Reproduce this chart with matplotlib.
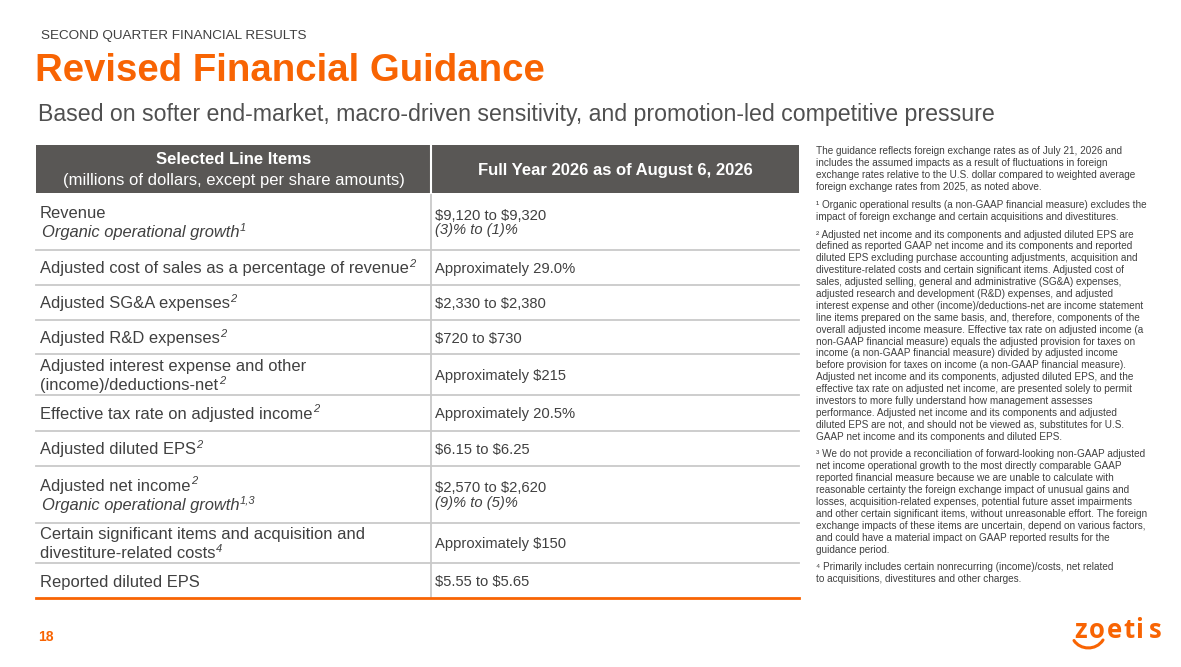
import matplotlib
matplotlib.use("Agg")
import matplotlib.pyplot as plt
from matplotlib.patches import Rectangle, PathPatch
from matplotlib.path import Path

plt.rcParams['font.family'] = ['Liberation Sans', 'DejaVu Sans']

# ---------------- content ----------------
kicker = "SECOND QUARTER FINANCIAL RESULTS"
title = "Revised Financial Guidance"
subtitle = "Based on softer end-market, macro-driven sensitivity, and promotion-led competitive pressure"
header_left = ["Selected Line Items", "(millions of dollars, except per share amounts)"]
header_right = "Full Year 2026 as of August 6, 2026"

# each line: (text, superscript)
line_items = [
    [("Revenue", "")],
    [("Adjusted cost of sales as a percentage of revenue", "2")],
    [("Adjusted SG&A expenses", "2")],
    [("Adjusted R&D expenses", "2")],
    [("Adjusted interest expense and other", ""), ("(income)/deductions-net", "2")],
    [("Effective tax rate on adjusted income", "2")],
    [("Adjusted diluted EPS", "2")],
    [("Adjusted net income", "2")],
    [("Certain significant items and acquisition and", ""), ("divestiture-related costs", "4")],
    [("Reported diluted EPS", "")],
]
line_item_sub = [("Organic operational growth", "1"), None, None, None, None, None, None,
                 ("Organic operational growth", "1,3"), None, None]
guidance = ["$9,120 to $9,320", "Approximately 29.0%", "$2,330 to $2,380", "$720 to $730",
            "Approximately $215", "Approximately 20.5%", "$6.15 to $6.25", "$2,570 to $2,620",
            "Approximately $150", "$5.55 to $5.65"]
guidance_sub = ["(3)% to (1)%", None, None, None, None, None, None, "(9)% to (5)%", None, None]

footnotes = [
    ["The guidance reflects foreign exchange rates as of July 21, 2026 and",
     "includes the assumed impacts as a result of fluctuations in foreign",
     "exchange rates relative to the U.S. dollar compared to weighted average",
     "foreign exchange rates from 2025, as noted above."],
    ["¹ Organic operational results (a non-GAAP financial measure) excludes the",
     "impact of foreign exchange and certain acquisitions and divestitures."],
    ["² Adjusted net income and its components and adjusted diluted EPS are",
     "defined as reported GAAP net income and its components and reported",
     "diluted EPS excluding purchase accounting adjustments, acquisition and",
     "divestiture-related costs and certain significant items. Adjusted cost of",
     "sales, adjusted selling, general and administrative (SG&A) expenses,",
     "adjusted research and development (R&D) expenses, and adjusted",
     "interest expense and other (income)/deductions-net are income statement",
     "line items prepared on the same basis, and, therefore, components of the",
     "overall adjusted income measure. Effective tax rate on adjusted income (a",
     "non-GAAP financial measure) equals the adjusted provision for taxes on",
     "income (a non-GAAP financial measure) divided by adjusted income",
     "before provision for taxes on income (a non-GAAP financial measure).",
     "Adjusted net income and its components, adjusted diluted EPS, and the",
     "effective tax rate on adjusted net income, are presented solely to permit",
     "investors to more fully understand how management assesses",
     "performance. Adjusted net income and its components and adjusted",
     "diluted EPS are not, and should not be viewed as, substitutes for U.S.",
     "GAAP net income and its components and diluted EPS."],
    ["³ We do not provide a reconciliation of forward-looking non-GAAP adjusted",
     "net income operational growth to the most directly comparable GAAP",
     "reported financial measure because we are unable to calculate with",
     "reasonable certainty the foreign exchange impact of unusual gains and",
     "losses, acquisition-related expenses, potential future asset impairments",
     "and other certain significant items, without unreasonable effort. The foreign",
     "exchange impacts of these items are uncertain, depend on various factors,",
     "and could have a material impact on GAAP reported results for the",
     "guidance period."],
    ["⁴ Primarily includes certain nonrecurring (income)/costs, net related",
     "to acquisitions, divestitures and other charges."],
]
page_number = "18"
logo_letters = list("zoetis")

# ---------------- style / layout ----------------
ORANGE = "#F86403"
DARK = "#404040"
HEADER_BG = "#595755"
GRID = "#C9C9C9"

W, H = 1181, 667
fig = plt.figure(figsize=(W / 100, H / 100), dpi=100)
ax = fig.add_axes([0, 0, 1, 1])
ax.set_xlim(0, W)
ax.set_ylim(H, 0)
ax.axis("off")
renderer = fig.canvas.get_renderer()
inv = ax.transData.inverted()


def text_with_sup(x, y, txt, sup, fs, style="normal", color=DARK):
    t = ax.text(x, y, txt, fontsize=fs, style=style, color=color, ha="left", va="center",
                parse_math=False)
    if sup:
        bb = t.get_window_extent(renderer=renderer)
        xr = inv.transform((bb.x1, bb.y0))[0]
        ax.text(xr + 0.5, y - fs * 0.42, sup, fontsize=fs * 0.68, style="italic",
                color=color, ha="left", va="center", parse_math=False)


ax.text(41, 36, kicker, fontsize=9.7, color=DARK, va="center", ha="left")
ax.text(35, 71, title, fontsize=27.6, fontweight="bold", color=ORANGE, va="center", ha="left")
ax.text(38, 114, subtitle, fontsize=16.7, color="#505050", va="center", ha="left")

# table geometry
x0, xdiv, x1 = 36, 431, 799
hdr_top, hdr_bot = 145, 193
row_bounds = [193, 249.5, 284.5, 320, 354, 395, 430.5, 466, 522.5, 563, 598]

ax.add_patch(Rectangle((x0, hdr_top), x1 - x0, hdr_bot - hdr_top, facecolor=HEADER_BG,
                       edgecolor="none", zorder=1))
ax.plot([xdiv, xdiv], [hdr_top, hdr_bot], color="white", lw=1.5, zorder=2)
cx_left = (x0 + xdiv) / 2
cx_right = (xdiv + x1) / 2
ax.text(cx_left, 160, header_left[0], fontsize=12, fontweight="bold", color="white",
        ha="center", va="center", zorder=3)
ax.text(cx_left, 180, header_left[1], fontsize=12, color="white", ha="center", va="center", zorder=3)
ax.text(cx_right, 171, header_right, fontsize=12, fontweight="bold", color="white",
        ha="center", va="center", zorder=3)

FS_L = 11.85
FS_R = 10.6
for i in range(len(line_items)):
    top, bot = row_bounds[i], row_bounds[i + 1]
    mid = (top + bot) / 2
    left_lines = [(t, s, "normal") for t, s in line_items[i]]
    if line_item_sub[i]:
        left_lines.append((line_item_sub[i][0], line_item_sub[i][1], "italic"))
    n = len(left_lines)
    for k, (t, s, st) in enumerate(left_lines):
        y = mid + (k - (n - 1) / 2) * 19.5 + 1.5
        xx = 40 if st == "normal" else 42
        text_with_sup(xx, y, t, s, FS_L, style=st)
    right_lines = [(guidance[i], "normal")]
    if guidance_sub[i]:
        right_lines.append((guidance_sub[i], "italic"))
    n = len(right_lines)
    for k, (t, st) in enumerate(right_lines):
        y = mid + (k - (n - 1) / 2) * 14.5 + 1.5
        ax.text(435, y, t, fontsize=FS_R, style=st, color=DARK, ha="left", va="center",
                parse_math=False)
    if i < len(line_items) - 1:
        ax.plot([x0, x1], [bot, bot], color=GRID, lw=1.3, zorder=1)

ax.plot([xdiv, xdiv], [hdr_bot, row_bounds[-1]], color=GRID, lw=1.3, zorder=1)
ax.plot([x0, x1], [row_bounds[-1], row_bounds[-1]], color=ORANGE, lw=2, zorder=2)

# footnotes
y = 151.5
LH = 11.9
GAP = 5.8
for para in footnotes:
    for line in para:
        ax.text(816, y, line, fontsize=7.2, color=DARK, ha="left", va="center")
        y += LH
    y += GAP

# footer
ax.text(38, 637, page_number, fontsize=10, fontweight="bold", color=ORANGE, ha="left", va="center")
logo_x = [1080.5, 1097, 1114.5, 1128.5, 1139.5, 1155]
for ch, lx in zip(logo_letters, logo_x):
    ax.text(lx, 638, ch, fontsize=18.5, color=ORANGE, ha="center", va="baseline",
            family=["Open Sans", "DejaVu Sans"], fontweight="bold")
swoosh = Path([(1074, 640.5), (1080, 650), (1096, 651), (1103, 640)],
              [Path.MOVETO, Path.CURVE4, Path.CURVE4, Path.CURVE4])
ax.add_patch(PathPatch(swoosh, facecolor="none", edgecolor=ORANGE, lw=2.2, capstyle="round"))

fig.savefig("out.png", dpi=100)
